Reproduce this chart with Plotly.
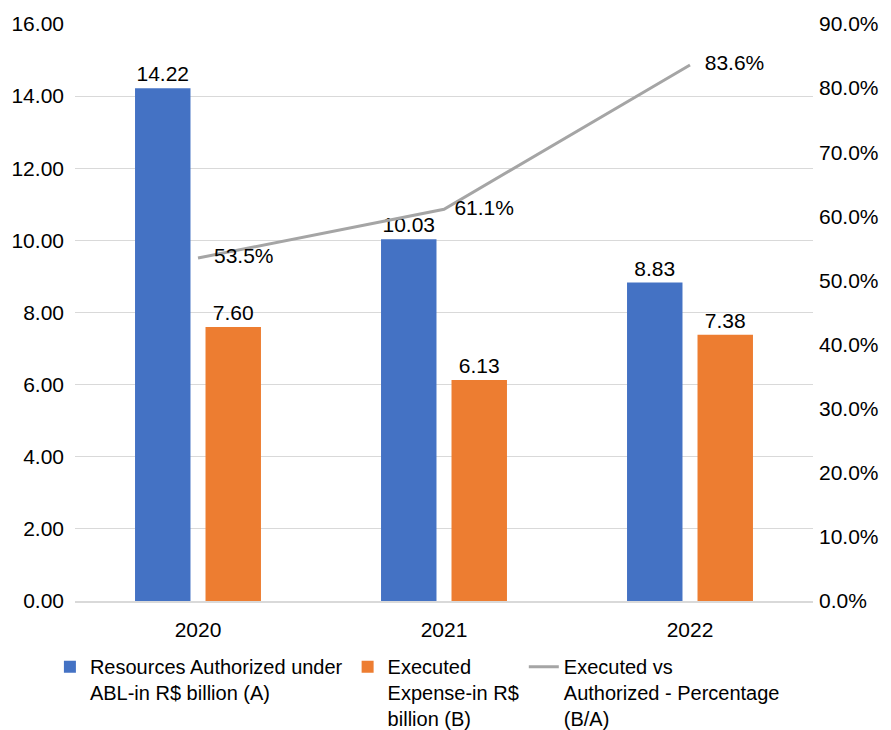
import plotly.graph_objects as go

# Annual budget data (R$ billion) and execution ratio
years = ["2020", "2021", "2022"]
authorized = [14.22, 10.03, 8.83]
executed = [7.60, 6.13, 7.38]
exec_ratio = [0.535, 0.611, 0.836]

left_ticks = [0, 2, 4, 6, 8, 10, 12, 14, 16]
right_ticks = [0, 0.1, 0.2, 0.3, 0.4, 0.5, 0.6, 0.7, 0.8, 0.9]

FONT = "Arial, 'Liberation Sans', sans-serif"
BLUE = "#4472c4"
ORANGE = "#ed7d31"
GRAY = "#a5a5a5"
GRID = "#d9d9d9"
LABEL_SIZE = 21

fig = go.Figure()

fig.add_trace(go.Bar(
    x=years, y=authorized,
    name="Resources Authorized under<br>ABL-in R$ billion (A)",
    marker=dict(color=BLUE, line=dict(width=0)),
    text=[f"{v:.2f}" for v in authorized],
    textposition="outside",
    textfont=dict(size=LABEL_SIZE, color="#000000", family=FONT),
    cliponaxis=False,
))

fig.add_trace(go.Bar(
    x=years, y=executed,
    name="Executed<br>Expense-in R$<br>billion (B)",
    marker=dict(color=ORANGE, line=dict(width=0)),
    text=[f"{v:.2f}" for v in executed],
    textposition="outside",
    textfont=dict(size=LABEL_SIZE, color="#000000", family=FONT),
    cliponaxis=False,
))

# invisible markers only serve to push the percentage labels off the line
fig.add_trace(go.Scatter(
    x=years, y=exec_ratio,
    name="Executed vs<br>Authorized - Percentage<br>(B/A)",
    yaxis="y2",
    mode="lines+markers+text",
    line=dict(color=GRAY, width=3),
    marker=dict(size=[24, 15, 22], color="rgba(0,0,0,0)",
                line=dict(width=0, color="rgba(0,0,0,0)")),
    text=[f"{v*100:.1f}%" for v in exec_ratio],
    textposition="middle right",
    textfont=dict(size=LABEL_SIZE, color="#000000", family=FONT),
    cliponaxis=False,
))

fig.update_layout(
    width=891, height=730,
    margin=dict(l=75, r=78, t=24, b=129, autoexpand=False),
    paper_bgcolor="white",
    plot_bgcolor="white",
    font=dict(family=FONT, size=20, color="#000000"),
    barmode="group",
    bargap=0.427,
    bargroupgap=0.213,
    showlegend=True,
    legend=dict(
        orientation="h",
        x=-0.034, xanchor="left",
        y=-0.08, yanchor="top",
        valign="top",
        font=dict(size=20, family=FONT, color="#000000"),
        itemclick=False,
        traceorder="normal",
    ),
    xaxis=dict(
        showgrid=False,
        showline=True, linecolor=GRID, linewidth=2,
        ticks="",
        tickfont=dict(size=LABEL_SIZE),
        ticklabelstandoff=9,
    ),
    yaxis=dict(
        range=[0, 16],
        tickvals=left_ticks,
        tickformat=".2f",
        showgrid=True, gridcolor=GRID, gridwidth=1,
        zeroline=False,
        showline=False,
        ticks="",
        tickfont=dict(size=LABEL_SIZE),
        ticklabelstandoff=10,
    ),
    yaxis2=dict(
        range=[0, 0.9],
        tickvals=right_ticks,
        tickformat=".1%",
        overlaying="y",
        side="right",
        showgrid=False,
        zeroline=False,
        showline=False,
        ticks="",
        tickfont=dict(size=LABEL_SIZE),
        ticklabelstandoff=5,
    ),
)

fig.write_html("out.html")
